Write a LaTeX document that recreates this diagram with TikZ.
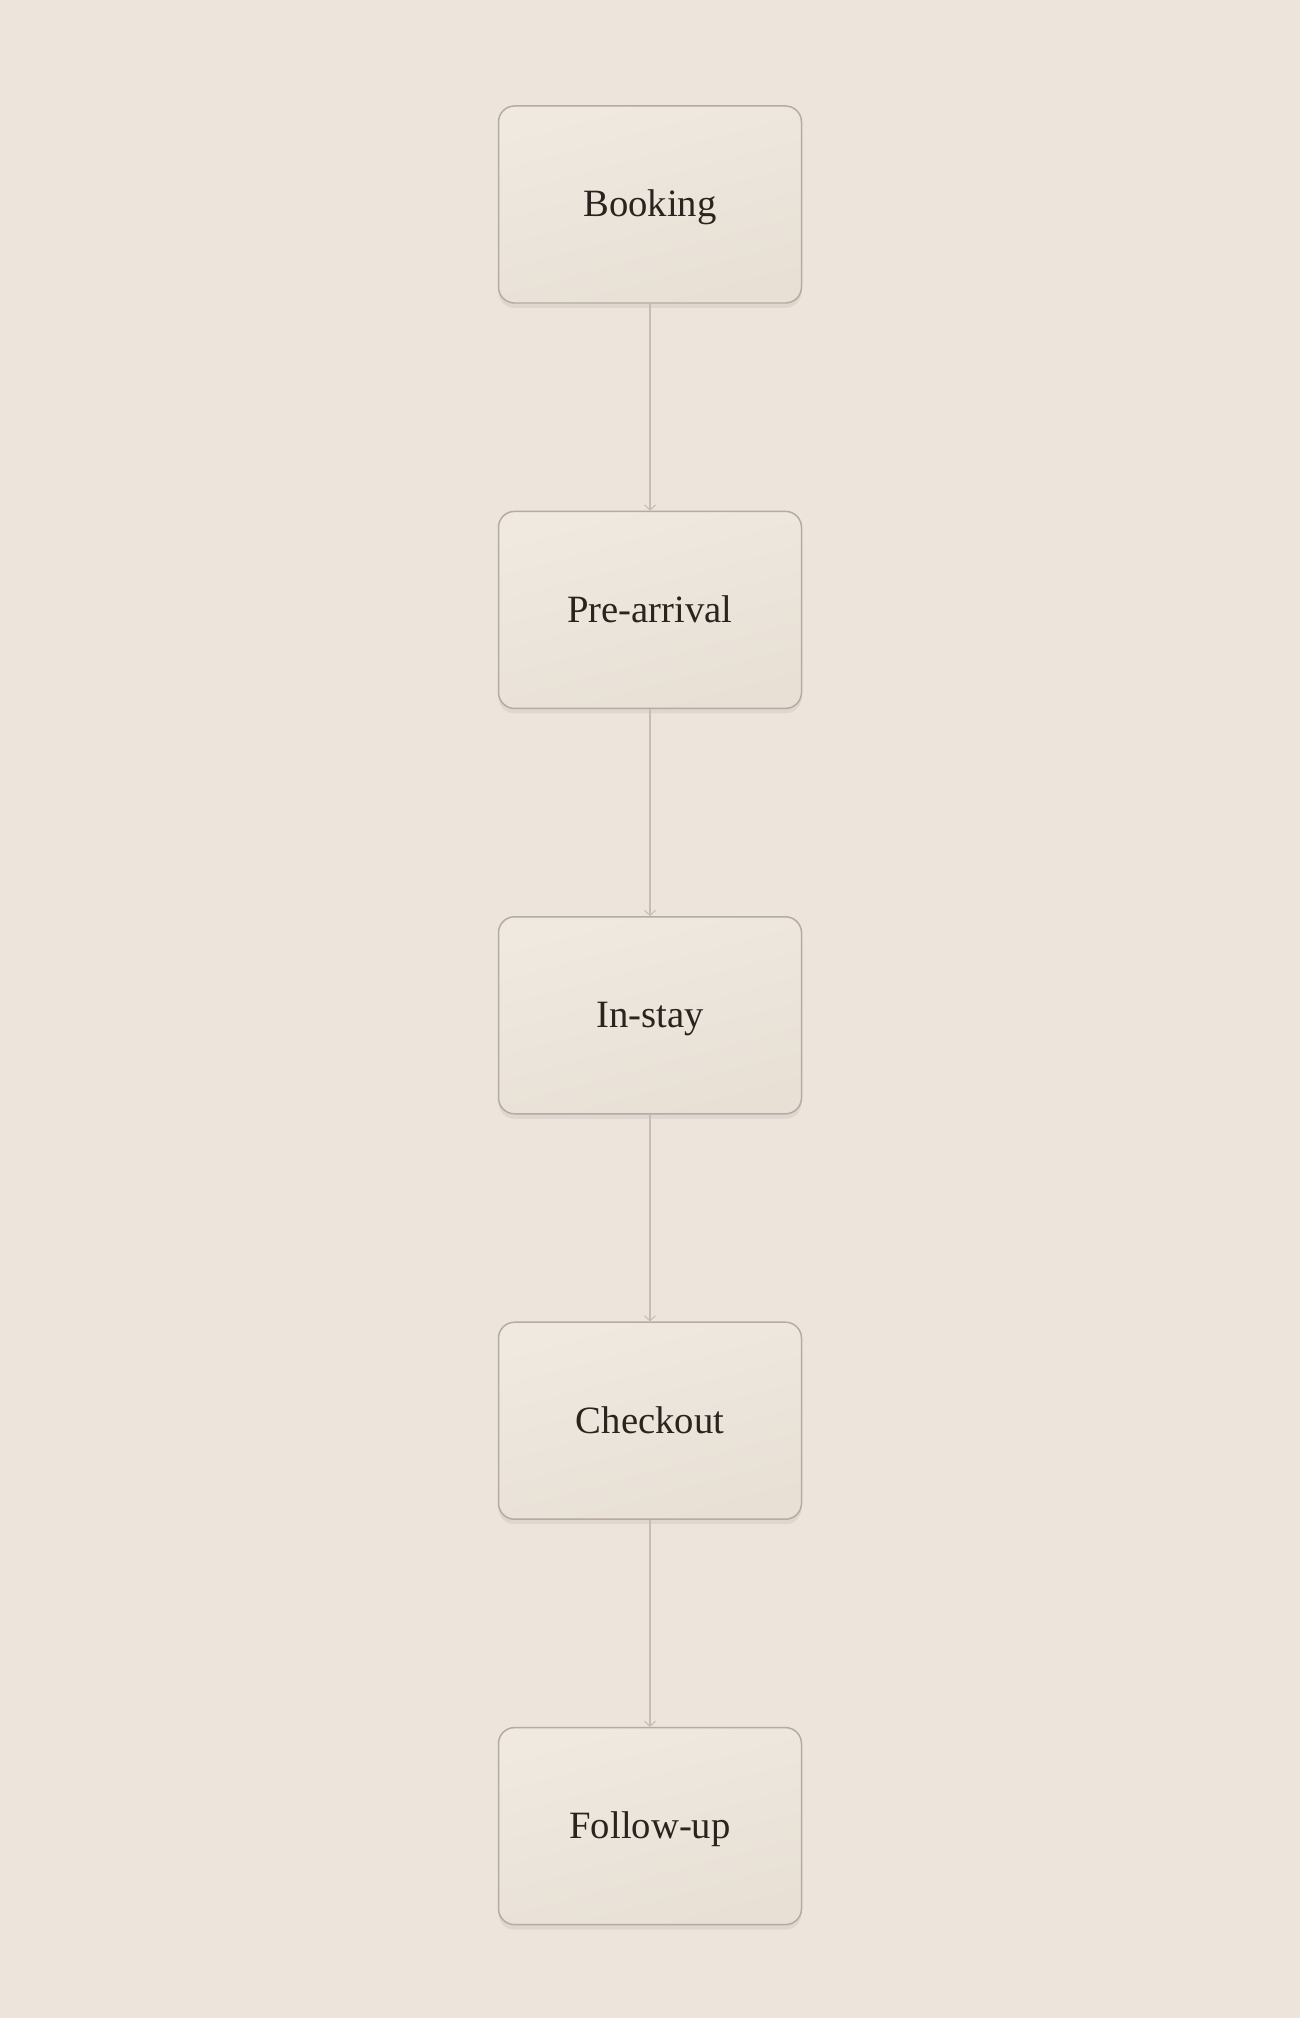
\documentclass[tikz,border=0pt]{standalone}
\usepackage{fontspec}
\setmainfont{Liberation Serif}
\usetikzlibrary{arrows.meta,shadows}
\definecolor{paper}{HTML}{EDE5DC}
\definecolor{boxtop}{HTML}{EFE9E0}
\definecolor{boxbot}{HTML}{E8E0D5}
\definecolor{boxline}{HTML}{B5ABA1}
\definecolor{wire}{HTML}{C6BEB4}
\definecolor{ink}{HTML}{2B241E}
\tikzset{
  stage/.style={draw=boxline,line width=0.85pt,rounded corners=0.32cm,
    top color=boxtop,bottom color=boxbot,shading angle=15,
    drop shadow={shadow xshift=0cm,shadow yshift=-0.1cm,opacity=0.06,fill=black},
    minimum width=6.06cm,minimum height=3.94cm,inner sep=0pt,
    text height=14pt,text depth=0pt,
    text=ink,font=\fontsize{22}{26}\selectfont},
  flow/.style={draw=wire,line width=0.7pt,
    -{Straight Barb[length=0.1cm,width=0.22cm,line width=0.6pt]}}
}
\begin{document}
\begin{tikzpicture}
  \fill[paper] (0,0) rectangle (26,-40.36);
  \useasboundingbox (0,0) rectangle (26,-40.36);
  \node[stage] (booking)    at (13,-4.09)   {Booking};     % first
  \node[stage] (prearrival) at (13,-12.198) {Pre-arrival};
  \node[stage] (instay)     at (13,-20.306) {In-stay};
  \node[stage] (checkout)   at (13,-28.414) {Checkout};
  \node[stage] (followup)   at (13,-36.522) {Follow-up};   % last
  \draw[flow] (booking) -- (prearrival);
  \draw[flow] (prearrival) -- (instay);
  \draw[flow] (instay) -- (checkout);
  \draw[flow] (checkout) -- (followup);
\end{tikzpicture}
\end{document}
